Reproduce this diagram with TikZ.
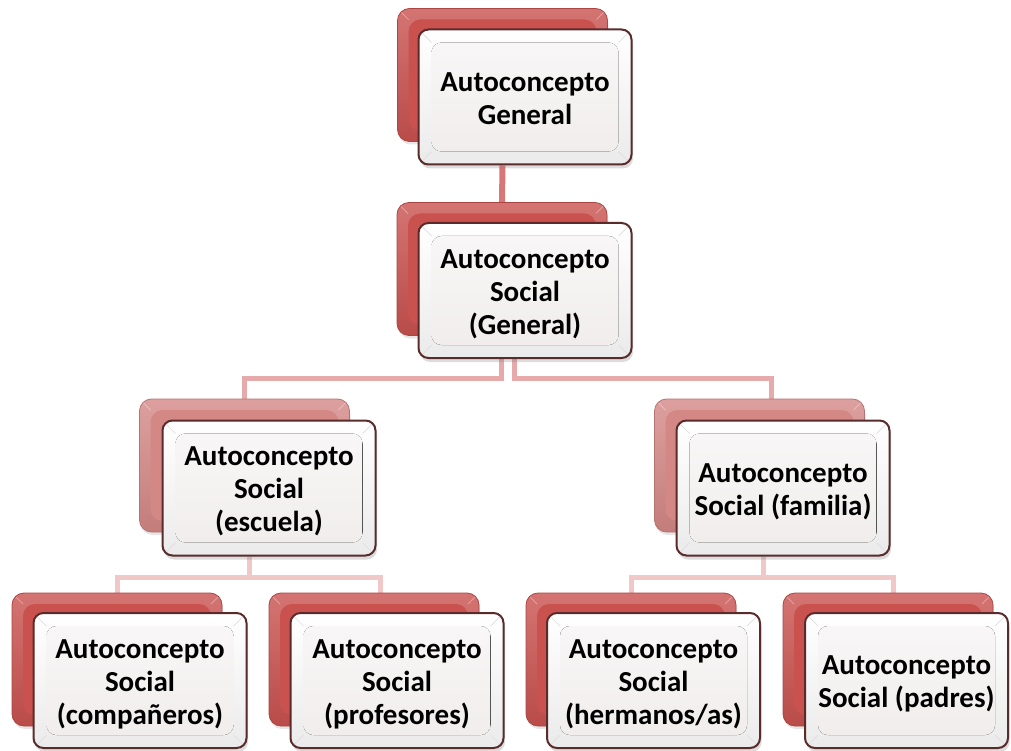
\documentclass[tikz,border=0pt]{standalone}
\usepackage{fontspec}
\setmainfont{Carlito}
\usetikzlibrary{shadows,calc}

\definecolor{redA}{HTML}{C9524F}
\definecolor{redB}{HTML}{D48886}
\definecolor{frontedge}{HTML}{5A2B2B}
\definecolor{frontin}{HTML}{F1EDED}
\definecolor{linkA}{HTML}{D87777}
\definecolor{linkB}{HTML}{E6AAAA}
\definecolor{linkC}{HTML}{F1C8C8}

\pgfdeclarelayer{bg}
\pgfsetlayers{bg,main}

% centred lines of a box label, with a little room on top so they sit below the middle
\newcommand\boxlines[1]{\raisebox{0pt}[\dimexpr\height+8pt\relax][\depth]{\begin{tabular}{@{}c@{}}#1\end{tabular}}}

\tikzset{
  backbox/.style={
    rounded corners=12pt, draw=#1!85!black, line width=0.8pt,
    top color=#1!80!white, bottom color=#1!92!black,
    minimum width=210pt, minimum height=133pt, inner sep=0pt,
    drop shadow={shadow xshift=1pt, shadow yshift=-3pt, opacity=0.2},
    path picture={
      \coordinate (qa) at ([shift={(11pt,-11pt)}]path picture bounding box.north west);
      \coordinate (qb) at ([shift={(-11pt,11pt)}]path picture bounding box.south east);
      \fill[#1] (qa) rectangle (qb);
      \draw[#1!55!white, line width=1pt] (path picture bounding box.north west) -- (qa)
        (path picture bounding box.north east) -- (qb |- qa);
    }},
  frontbox/.style={
    rounded corners=10pt, draw=frontedge, line width=2pt,
    top color=white, bottom color=gray!16,
    drop shadow={shadow xshift=1.5pt, shadow yshift=-4pt, opacity=0.28},
    inner sep=0pt,
    font=\fontsize{29}{33}\selectfont\bfseries,
    path picture={
      \coordinate (pa) at ([shift={(13pt,-13pt)}]path picture bounding box.north west);
      \coordinate (pb) at ([shift={(-13pt,13pt)}]path picture bounding box.south east);
      \fill[top color=frontin!50!white, bottom color=frontin] (pa) rectangle (pb);
      \draw[gray!25, line width=0.7pt]
        (path picture bounding box.north west) -- (pa)
        (path picture bounding box.north east) -- (pb |- pa)
        (path picture bounding box.south east) -- (pb)
        (path picture bounding box.south west) -- (pa |- pb);
    }},
  wide/.style={minimum width=213pt, minimum height=135pt},
  link/.style={line width=#1, line cap=butt},
}

\begin{document}
\begin{tikzpicture}[x=1pt,y=-1pt]
\useasboundingbox (0,0) rectangle (1011,751);

% level 1
\node[backbox=redA] (r1) at (502.5,75) {};
\node[frontbox, wide] (w1) at (525,97) {\boxlines{Autoconcepto\\General}};

% level 2
\node[backbox=redA] (r2) at (502,269) {};
\node[frontbox, wide] (w2) at (525,290.5) {\boxlines{Autoconcepto\\Social\\(General)}};

% level 3
\node[backbox=redB] (r3a) at (244.5,465.5) {};
\node[frontbox, wide] (w3a) at (269,488) {\boxlines{Autoconcepto\\Social\\(escuela)}};
\node[backbox=redB] (r3b) at (759.5,465.5) {};
\node[frontbox, wide] (w3b) at (783,488) {\boxlines{Autoconcepto\\Social (familia)}};

% level 4
\node[backbox=redA] (r4a) at (117,659.5) {};
\node[frontbox, wide] (w4a) at (140,680.5) {\boxlines{Autoconcepto\\Social\\(compañeros)}};
\node[backbox=redA] (r4b) at (374,659.5) {};
\node[frontbox, wide] (w4b) at (397,680.5) {\boxlines{Autoconcepto\\Social\\(profesores)}};
\node[backbox=redA] (r4c) at (631,659.5) {};
\node[frontbox, wide] (w4c) at (653.5,680.5) {\boxlines{Autoconcepto\\Social\\(hermanos/as)}};
\node[backbox=redA] (r4d) at (888,659.5) {};
\node[frontbox, minimum width=203pt, minimum height=135pt] (w4d) at (906.5,680.5) {\boxlines{Autoconcepto\\Social (padres)}};

\coordinate (bus2) at (0,378.5);
\coordinate (bus3) at (0,577);

\begin{pgfonlayer}{bg}
  % general -> social
  \draw[link=6pt, linkA] (r1.center |- w1.south) -- (r2.north);
  % social -> escuela / familia
  \draw[link=5pt, linkB] ([xshift=-1pt]r2.center |- w2.south)
        -- ([xshift=-1pt]r2.center |- bus2) -| (r3a.north);
  \draw[link=5pt, linkB] ([xshift=12pt]r2.center |- w2.south)
        -- ([xshift=12pt]r2.center |- bus2) -| ([xshift=12pt]r3b.north);
  % escuela -> companeros / profesores
  \draw[link=5pt, linkC] ([xshift=5pt]r3a.center |- w3a.south)
        -- ([xshift=5pt]r3a.center |- bus3) -| (r4a.north);
  \draw[link=5pt, linkC] ([xshift=5pt]r3a.center |- bus3) -| ([xshift=6pt]r4b.north);
  % familia -> hermanos / padres
  \draw[link=5pt, linkC] ([xshift=3.5pt]r3b.center |- w3b.south)
        -- ([xshift=3.5pt]r3b.center |- bus3) -| (r4c.north);
  \draw[link=5pt, linkC] ([xshift=3.5pt]r3b.center |- bus3) -| ([xshift=5pt]r4d.north);
\end{pgfonlayer}
\end{tikzpicture}
\end{document}
